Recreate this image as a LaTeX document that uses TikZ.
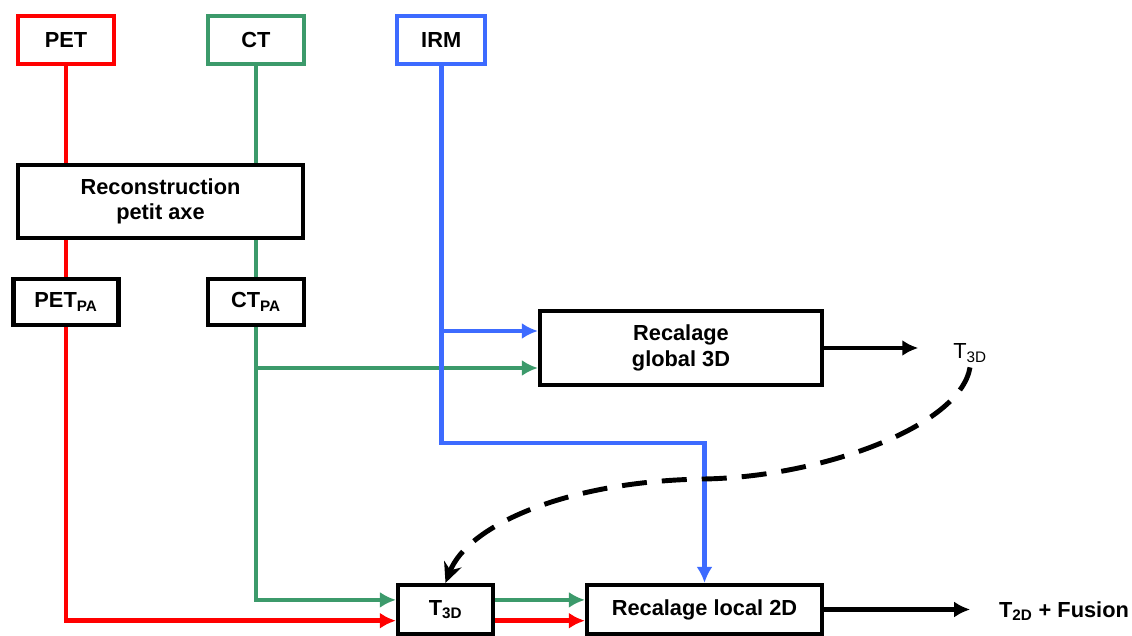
\documentclass[tikz,border=0pt]{standalone}
\usepackage{fontspec}
\setmainfont{Liberation Sans}
\usetikzlibrary{positioning, arrows.meta}

\definecolor{petred}{HTML}{FF0000}
\definecolor{ctgreen}{HTML}{3C9A6B}
\definecolor{irmblue}{HTML}{3D6BFF}

\begin{document}
\begin{tikzpicture}[
    font=\fontsize{15.5}{18}\selectfont\bfseries,
    box/.style={
        rectangle, draw=black, line width=3pt,
        fill=white, align=center, inner sep=2pt
    },
    petbox/.style={box, draw=petred, minimum width=2.4cm, minimum height=1.2cm},
    ctbox/.style={box, draw=ctgreen, minimum width=2.4cm, minimum height=1.2cm},
    irmbox/.style={box, draw=irmblue, minimum width=2.2cm, minimum height=1.2cm},
    redline/.style={line width=3.4pt, draw=petred},
    greenline/.style={line width=3.4pt, draw=ctgreen},
    blueline/.style={line width=3.4pt, draw=irmblue},
    redflow/.style={redline, -{Latex[length=4mm, width=4mm]}},
    greenflow/.style={greenline, -{Latex[length=4mm, width=4mm]}},
    blueflow/.style={blueline, -{Latex[length=4mm, width=4mm]}},
    flow/.style={line width=3.5pt, draw=black, -{Latex[length=4mm, width=4mm]}},
    dashflow/.style={line width=3.5pt, draw=black, dash pattern=on 0.625cm off 0.375cm,
        -{Stealth[length=5mm, width=4.6mm]}}
]
\useasboundingbox (0,0) rectangle (28.3,15.875);

% ============ Sources ============
\node[petbox] (pet) at (1.65,14.875) {PET};
\node[ctbox] (ct) at (6.4,14.875) {CT};
\node[irmbox] (irm) at (11.03,14.875) {IRM};

% ============ Short axis reconstruction ============
\node[box, minimum width=7.125cm, minimum height=1.825cm] (recon) at (4.0125,10.8375)
    {Reconstruction\\petit axe};
\node[box, minimum width=2.625cm, minimum height=1.15cm] (petpa) at (1.65,8.325)
    {PET\textsubscript{PA}};
\node[box, minimum width=2.4cm, minimum height=1.15cm] (ctpa) at (6.4,8.325)
    {CT\textsubscript{PA}};

% ============ Registration ============
\node[box, minimum width=7.05cm, minimum height=1.85cm] (global) at (17.025,7.175)
    {Recalage\\global 3D};
\node[font=\fontsize{15.5}{18}\selectfont\mdseries] (t3dlabel) at (24.25,7.05)
    {T\textsubscript{3D}};
\node[box, minimum width=2.375cm, minimum height=1.225cm] (t3dbox) at (11.1375,0.6375)
    {T\textsubscript{3D}};
\node[box, minimum width=5.875cm, minimum height=1.225cm] (local) at (17.6125,0.6375)
    {Recalage local 2D};
\node (fusion) at (26.6,0.6) {T\textsubscript{2D} + Fusion};

\coordinate (ctsplit) at (6.4,6.675);
\coordinate (irmsplit) at (11.03,7.6);
\coordinate (irmturn) at (11.03,4.8);
\coordinate (dashmid) at (17.6,3.9);

% ============ Flow ============
\draw[redline] (pet.south) -- (pet.south |- recon.north);
\draw[redline] (petpa.north |- recon.south) -- (petpa.north);
\draw[redflow] (petpa.south) |- ([yshift=-0.28cm]t3dbox.west);
\draw[redflow] ([yshift=-0.28cm]t3dbox.east) -- ([yshift=-0.28cm]local.west);

\draw[greenline] (ct.south) -- (ct.south |- recon.north);
\draw[greenline] (ctpa.north |- recon.south) -- (ctpa.north);
\draw[greenflow] (ctpa.south) |- ([yshift=0.24cm]t3dbox.west);
\draw[greenflow] (ctsplit) -- (ctsplit -| global.west);
\draw[greenflow] ([yshift=0.24cm]t3dbox.east) -- ([yshift=0.24cm]local.west);

\draw[blueflow] (irmsplit) -- (irmsplit -| global.west);
\draw[blueflow] (irm.south) -- (irmturn) -| (local.north);

\draw[flow, shorten >=0.75cm] (global.east) -- (global.east -| t3dlabel.west);
\draw[flow, shorten >=0.6cm] (local.east) -- (local.east -| fusion.west);
\draw[dashflow] (t3dlabel.south) .. controls (24.0,5.2) and (20.5,3.95) .. (dashmid)
    .. controls (14.2,3.85) and (11.7,2.75) .. (t3dbox.north);

\end{tikzpicture}
\end{document}
